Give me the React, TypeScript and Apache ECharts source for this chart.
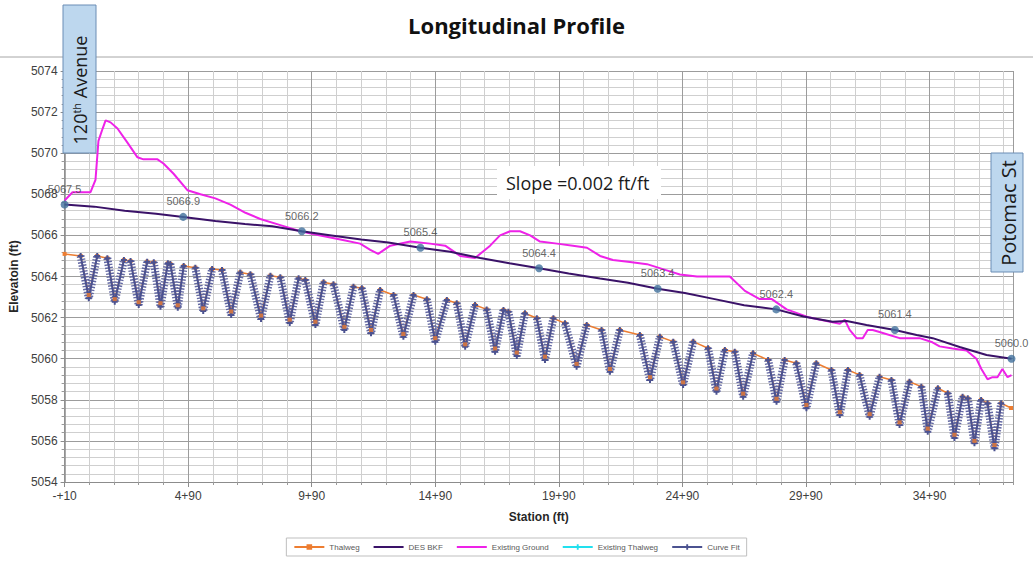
import React, { useEffect, useRef } from 'react';
import * as echarts from 'echarts';

// Station offset so the axis starts at 0 (station -0+10 => axis value 0)
const X_SHIFT = 10;
const X_MAX_STATION = 3828;

// Existing ground (station ft, elevation ft)
const groundStation = [-10, 22, 95, 115, 127, 144, 156, 176, 204, 245, 285, 309, 366, 390, 431, 487, 540, 600, 661, 722, 782, 863, 944, 1025, 1106, 1186, 1227, 1259, 1308, 1389, 1469, 1530, 1591, 1651, 1712, 1752, 1793, 1833, 1874, 1914, 1983, 2047, 2104, 2157, 2209, 2278, 2347, 2427, 2480, 2549, 2621, 2682, 2743, 2803, 2852, 2912, 3005, 3127, 3147, 3167, 3195, 3220, 3240, 3260, 3288, 3369, 3450, 3502, 3531, 3583, 3640, 3680, 3700, 3725, 3745, 3765, 3785, 3806, 3822];
const groundElev = [5067.7, 5068.1, 5068.1, 5068.7, 5070.6, 5071.2, 5071.6, 5071.5, 5071.2, 5070.5, 5069.8, 5069.7, 5069.7, 5069.5, 5069.0, 5068.2, 5068.0, 5067.8, 5067.5, 5067.1, 5066.8, 5066.5, 5066.2, 5066.0, 5065.8, 5065.6, 5065.3, 5065.1, 5065.5, 5065.7, 5065.6, 5065.5, 5065.0, 5064.9, 5065.5, 5066.0, 5066.2, 5066.2, 5066.0, 5065.7, 5065.6, 5065.5, 5065.4, 5065.0, 5064.8, 5064.7, 5064.6, 5064.3, 5064.1, 5064.0, 5064.0, 5064.0, 5063.3, 5062.9, 5062.9, 5062.4, 5062.0, 5061.7, 5061.9, 5061.4, 5061.0, 5061.0, 5061.4, 5061.4, 5061.3, 5061.0, 5061.0, 5060.8, 5060.6, 5060.5, 5060.4, 5060.0, 5059.5, 5059.0, 5059.1, 5059.1, 5059.5, 5059.1, 5059.2];

// Design bankfull line
const bkfStation = [-10, 110, 233, 360, 470, 600, 720, 830, 950, 1070, 1190, 1300, 1430, 1550, 1672, 1790, 1910, 2030, 2157, 2270, 2390, 2500, 2621, 2740, 2870, 2980, 3098, 3155, 3235, 3350, 3438, 3503, 3612, 3721, 3822];
const bkfElev = [5067.5, 5067.4, 5067.2, 5067.05, 5066.9, 5066.7, 5066.55, 5066.45, 5066.2, 5066.0, 5065.8, 5065.65, 5065.4, 5065.2, 5064.9, 5064.65, 5064.4, 5064.15, 5063.9, 5063.7, 5063.4, 5063.2, 5062.9, 5062.6, 5062.4, 5062.05, 5061.8, 5061.83, 5061.64, 5061.4, 5061.15, 5061.0, 5060.57, 5060.18, 5060.0];

// Labelled bankfull points
const bkfPointStation = [-10, 470, 950, 1430, 1910, 2390, 2870, 3350, 3822];
const bkfPointElev = [5067.5, 5066.9, 5066.2, 5065.4, 5064.4, 5063.4, 5062.4, 5061.4, 5060.0];

// Thalweg end points
const thalwegStartStation = -10;
const thalwegStartElev = 5065.1;
const thalwegEndStation = 3820;
const thalwegEndElev = 5057.6;

// Pools (riffle top left, pool bottom, riffle top right)
const poolLeftStation = [55, 163, 257, 351, 418, 519, 627, 742, 863, 964, 1078, 1193, 1321, 1456, 1577, 1698, 1786, 1901, 2015, 2163, 2318, 2453, 2594, 2702, 2837, 2951, 3093, 3207, 3336, 3457, 3564, 3645, 3725];
const poolLeftElev = [5065.0, 5064.89, 5064.75, 5064.69, 5064.61, 5064.43, 5064.32, 5064.11, 5063.96, 5063.83, 5063.62, 5063.43, 5063.10, 5062.89, 5062.70, 5062.40, 5062.29, 5061.97, 5061.72, 5061.40, 5061.15, 5060.83, 5060.51, 5060.34, 5059.94, 5059.78, 5059.45, 5059.21, 5058.96, 5058.64, 5058.32, 5058.07, 5057.83];
const poolBottomStation = [88, 193, 290, 378, 448, 551, 664, 785, 901, 1005, 1122, 1230, 1361, 1490, 1611, 1732, 1820, 1934, 2062, 2197, 2359, 2493, 2628, 2736, 2871, 2992, 3127, 3248, 3369, 3483, 3591, 3672, 3753];
const poolBottomElev = [5062.94, 5062.77, 5062.61, 5062.53, 5062.48, 5062.32, 5062.13, 5061.93, 5061.74, 5061.64, 5061.40, 5061.24, 5061.07, 5060.83, 5060.58, 5060.34, 5060.13, 5059.94, 5059.61, 5059.37, 5058.96, 5058.72, 5058.39, 5058.15, 5057.91, 5057.59, 5057.26, 5057.18, 5056.77, 5056.45, 5056.14, 5055.88, 5055.64];
const thalwegBottomElev = [5063.1, 5062.9, 5062.75, 5062.7, 5062.6, 5062.45, 5062.3, 5062.1, 5061.9, 5061.8, 5061.55, 5061.4, 5061.2, 5061.0, 5060.7, 5060.5, 5060.3, 5060.1, 5059.75, 5059.5, 5059.1, 5058.85, 5058.55, 5058.3, 5058.05, 5057.75, 5057.4, 5057.3, 5056.9, 5056.6, 5056.3, 5056.0, 5055.8];
const poolRightStation = [122, 230, 324, 408, 472, 587, 701, 823, 937, 1038, 1159, 1267, 1402, 1537, 1651, 1766, 1853, 1968, 2103, 2237, 2399, 2534, 2662, 2776, 2904, 3032, 3160, 3288, 3409, 3524, 3624, 3699, 3780];
const poolRightElev = [5065.0, 5064.80, 5064.72, 5064.64, 5064.51, 5064.36, 5064.20, 5064.04, 5063.91, 5063.72, 5063.50, 5063.34, 5063.10, 5062.86, 5062.61, 5062.37, 5062.21, 5061.97, 5061.64, 5061.40, 5061.07, 5060.83, 5060.42, 5060.26, 5059.94, 5059.78, 5059.45, 5059.12, 5058.88, 5058.56, 5058.15, 5057.99, 5057.83];

const legendNames = ['Thalweg', 'DES BKF', 'Existing Ground', 'Existing Thalweg', 'Curve Fit'];

const plusSymbol = 'path://M2,0H4V2H6V4H4V6H2V4H0V2H2Z';

const ax = (s: number) => s + X_SHIFT;

function stationLabel(v: number): string {
  const s = Math.round(v - X_SHIFT);
  const h = Math.trunc(s / 100);
  const r = Math.abs(s % 100);
  const hs = s < 0 && h === 0 ? '-' : String(h);
  return hs + '+' + String(r).padStart(2, '0');
}

export default function App() {
  const ref = useRef<HTMLDivElement>(null);

  useEffect(() => {
    if (!ref.current) return;
    const chart = echarts.init(ref.current, undefined, { renderer: 'svg' });

    const groundData = groundStation.map((s, i) => [ax(s), groundElev[i]]);
    const bkfData = bkfStation.map((s, i) => [ax(s), bkfElev[i]]);
    const bkfPts = bkfPointStation.map((s, i) => [ax(s), bkfPointElev[i]]);

    const thalwegData: any[] = [[ax(thalwegStartStation), thalwegStartElev]];
    const curveFitData: any[] = [];
    const thalwegBottoms: any[] = [];
    for (let i = 0; i < poolBottomStation.length; i++) {
      thalwegData.push([ax(poolLeftStation[i]), poolLeftElev[i]]);
      thalwegData.push([ax(poolBottomStation[i]), thalwegBottomElev[i]]);
      thalwegData.push([ax(poolRightStation[i]), poolRightElev[i]]);
      curveFitData.push([ax(poolLeftStation[i]), poolLeftElev[i]]);
      curveFitData.push([ax(poolBottomStation[i]), poolBottomElev[i]]);
      curveFitData.push([ax(poolRightStation[i]), poolRightElev[i]]);
      curveFitData.push(['-', '-']);
      thalwegBottoms.push([ax(poolBottomStation[i]), thalwegBottomElev[i]]);
    }
    thalwegData.push([ax(thalwegEndStation), thalwegEndElev]);

    const axisFont = 'Liberation Sans';
    const hiddenSymbol = { color: 'rgba(0,0,0,0)', borderColor: 'rgba(0,0,0,0)', borderWidth: 0 };

    chart.setOption({
      animation: false,
      backgroundColor: '#ffffff',
      title: {
        text: 'Longitudinal Profile',
        left: 'center',
        top: 14,
        padding: 0,
        textStyle: { fontSize: 22, fontWeight: 'bold', fontFamily: 'Open Sans', color: '#111111' },
      },
      legend: {
        data: [
          { name: legendNames[0] },
          { name: legendNames[1], itemStyle: hiddenSymbol },
          { name: legendNames[2], itemStyle: hiddenSymbol },
          { name: legendNames[3] },
          { name: legendNames[4] },
        ],
        left: 'center',
        top: 538,
        itemWidth: 30,
        itemHeight: 7,
        itemGap: 13,
        padding: [5, 7],
        borderColor: '#bfbfbf',
        borderWidth: 1,
        textStyle: { fontSize: 8, color: '#595959', fontFamily: axisFont },
      },
      grid: { left: 64, right: 20, top: 71, bottom: 81, containLabel: false },
      xAxis: [
        {
          type: 'value',
          position: 'bottom',
          min: 0,
          max: ax(X_MAX_STATION),
          interval: 100,
          axisLine: { show: false },
          axisTick: { show: true, length: 3, lineStyle: { color: '#9a9a9a' } },
          axisLabel: { show: false },
          splitLine: { show: true, lineStyle: { color: '#cfcfcf', width: 1 } },
        },
        {
          type: 'value',
          position: 'bottom',
          offset: 0,
          min: 0,
          max: ax(X_MAX_STATION),
          interval: 500,
          name: 'Station (ft)',
          nameLocation: 'middle',
          nameGap: 29,
          nameTextStyle: { fontSize: 12, fontWeight: 'bold', color: '#262626', fontFamily: axisFont },
          axisLine: { show: true, lineStyle: { color: '#8c8c8c', width: 1 } },
          axisTick: { show: true, length: 5, lineStyle: { color: '#8c8c8c' } },
          axisLabel: {
            show: true,
            margin: 8,
            fontSize: 12,
            color: '#404040',
            fontFamily: axisFont,
            showMaxLabel: false,
            formatter: (v: number) => stationLabel(v),
          },
          splitLine: { show: true, lineStyle: { color: '#9c9c9c', width: 1 } },
        },
      ],
      yAxis: {
        type: 'value',
        min: 5054,
        max: 5074,
        interval: 2,
        name: 'Elevatoin (ft)',
        nameLocation: 'middle',
        nameGap: 44,
        nameTextStyle: { fontSize: 12, fontWeight: 'bold', color: '#262626', fontFamily: axisFont },
        axisLine: { show: true, lineStyle: { color: '#8c8c8c', width: 1.5 } },
        axisTick: { show: true, length: 4, lineStyle: { color: '#8c8c8c' } },
        minorTick: { show: true, splitNumber: 5, length: 3, lineStyle: { color: '#9a9a9a' } },
        axisLabel: {
          fontSize: 12,
          color: '#404040',
          fontFamily: axisFont,
          margin: 7,
          formatter: (v: number) => String(v),
        },
        splitLine: { show: true, lineStyle: { color: '#9c9c9c', width: 1 } },
        minorSplitLine: { show: true, lineStyle: { color: '#cfcfcf', width: 1 } },
      },
      series: [
        {
          name: 'Existing Ground',
          type: 'line',
          xAxisIndex: 1,
          data: groundData,
          symbol: 'none',
          color: '#ee22e8',
          lineStyle: { color: '#ee22e8', width: 2 },
          z: 2,
        },
        {
          name: 'DES BKF',
          type: 'line',
          xAxisIndex: 1,
          data: bkfData,
          symbol: 'none',
          color: '#3a1268',
          lineStyle: { color: '#3a1268', width: 2 },
          z: 3,
        },
        {
          name: 'Thalweg',
          type: 'line',
          xAxisIndex: 1,
          data: thalwegData,
          symbol: 'rect',
          symbolSize: 4,
          color: '#ed7d31',
          itemStyle: { color: '#ed7d31' },
          lineStyle: { color: '#ed7d31', width: 1.5 },
          z: 4,
        },
        {
          name: 'Existing Thalweg',
          type: 'line',
          xAxisIndex: 1,
          data: [],
          symbol: plusSymbol,
          symbolSize: 6,
          color: '#22e0ee',
          itemStyle: { color: '#22e0ee' },
          lineStyle: { color: '#22e0ee', width: 1.5 },
        },
        {
          name: 'cfTexture',
          type: 'line',
          xAxisIndex: 1,
          data: curveFitData,
          symbol: 'none',
          connectNulls: false,
          lineStyle: { color: '#6368a2', width: 8, type: [1.4, 1.6] },
          z: 5,
        },
        {
          name: 'Curve Fit',
          type: 'line',
          xAxisIndex: 1,
          data: curveFitData,
          symbol: plusSymbol,
          symbolSize: 6,
          connectNulls: false,
          color: '#4b5290',
          itemStyle: { color: '#4b5290' },
          lineStyle: { color: '#4b5290', width: 2 },
          z: 6,
        },
        {
          name: 'thalwegBottoms',
          type: 'scatter',
          xAxisIndex: 1,
          data: thalwegBottoms,
          symbol: 'rect',
          symbolSize: 4,
          itemStyle: { color: '#ed7d31' },
          z: 7,
        },
        {
          name: 'bkfPoints',
          type: 'scatter',
          xAxisIndex: 1,
          data: bkfPts,
          symbol: 'circle',
          symbolSize: 8,
          itemStyle: { color: '#41719c' },
          label: {
            show: true,
            position: 'top',
            distance: 6,
            fontSize: 11,
            color: '#404040',
            fontFamily: axisFont,
            formatter: (p: any) => Number(p.value[1]).toFixed(1),
          },
          z: 8,
        },
      ],
      graphic: [
        {
          type: 'line',
          shape: { x1: 0, y1: 57, x2: 1033, y2: 57 },
          style: { stroke: '#a6a6a6', lineWidth: 1 },
          z: 50,
        },
        {
          type: 'rect',
          shape: { x: 63, y: 5, width: 33, height: 148 },
          style: { fill: '#bdd7ee', stroke: '#6b8db5', lineWidth: 1 },
          z: 100,
        },
        {
          type: 'text',
          x: 80,
          y: 90,
          rotation: Math.PI / 2,
          style: {
            text: '{n|120}{s|th}{n| Avenue}',
            align: 'center',
            verticalAlign: 'middle',
            fill: '#1a1a1a',
            rich: {
              n: { fontSize: 18, fontFamily: 'Open Sans', fill: '#1a1a1a', color: '#1a1a1a' },
              s: { fontSize: 11, fontFamily: 'Open Sans', verticalAlign: 'top', fill: '#1a1a1a', color: '#1a1a1a' },
            },
          },
          z: 101,
        },
        {
          type: 'rect',
          shape: { x: 991, y: 153, width: 32, height: 119 },
          style: { fill: '#bdd7ee', stroke: '#6b8db5', lineWidth: 1 },
          z: 100,
        },
        {
          type: 'text',
          x: 1008,
          y: 213,
          rotation: Math.PI / 2,
          style: {
            text: 'Potomac St',
            align: 'center',
            verticalAlign: 'middle',
            fontSize: 20,
            fontFamily: 'Open Sans',
            fill: '#1a1a1a',
          },
          z: 101,
        },
        {
          type: 'rect',
          shape: { x: 497, y: 166, width: 164, height: 33 },
          style: { fill: '#ffffff' },
          z: 100,
        },
        {
          type: 'text',
          x: 506,
          y: 183,
          style: {
            text: 'Slope =0.002 ft/ft',
            align: 'left',
            verticalAlign: 'middle',
            fontSize: 18,
            fontFamily: 'Open Sans',
            fill: '#1a1a1a',
          },
          z: 101,
        },
      ],
    });

    return () => chart.dispose();
  }, []);

  return (
    <div
      ref={ref}
      style={{ position: 'fixed', left: 0, top: 0, width: 1033, height: 563, background: '#ffffff' }}
    />
  );
}
